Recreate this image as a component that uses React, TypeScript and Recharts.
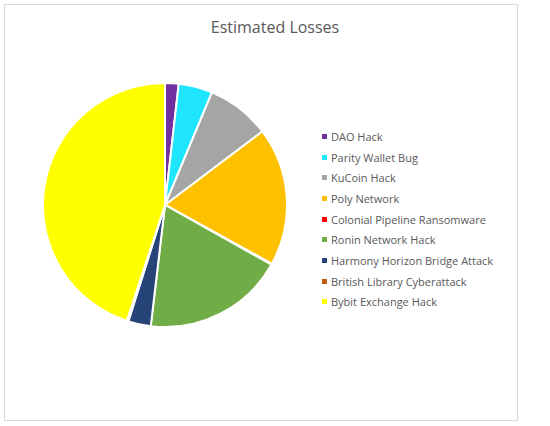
import React from 'react';
import { PieChart, Pie, Cell, Legend } from 'recharts';

// estimated losses, millions USD
const incidents = [
  'DAO Hack',
  'Parity Wallet Bug',
  'KuCoin Hack',
  'Poly Network',
  'Colonial Pipeline Ransomware',
  'Ronin Network Hack',
  'Harmony Horizon Bridge Attack',
  'British Library Cyberattack',
  'Bybit Exchange Hack',
];
const losses = [60, 150, 281, 611, 4.4, 625, 100, 7, 1500];
const colors = [
  '#7030A0',
  '#1FE5FF',
  '#A5A5A5',
  '#FFC000',
  '#FF0000',
  '#70AD47',
  '#264478',
  '#C55A11',
  '#FFFF00',
];

const data = incidents.map((name, i) => ({ name, value: losses[i] }));

const font = '"Open Sans", sans-serif';

const LegendList = ({ payload }: any) => (
  <div style={{ fontFamily: font, fontSize: 11, color: '#595959' }}>
    {payload.map((entry: any) => (
      <div key={entry.value} style={{ height: 20.7, display: 'flex', alignItems: 'center' }}>
        <span
          style={{
            display: 'inline-block',
            width: 5,
            height: 5,
            background: entry.color,
            marginRight: 4,
          }}
        />
        <span>{entry.value}</span>
      </div>
    ))}
  </div>
);

export default function App() {
  return (
    <div style={{ position: 'absolute', left: 0, top: 0, width: 550, height: 426, background: '#fff' }}>
      <div
        style={{
          position: 'absolute',
          left: 4,
          top: 4,
          width: 512,
          height: 415,
          border: '1px solid #D9D9D9',
        }}
      />
      <div
        style={{
          position: 'absolute',
          left: 0,
          top: 16,
          width: 550,
          textAlign: 'center',
          fontFamily: font,
          fontSize: 16,
          color: '#595959',
        }}
      >
        Estimated Losses
      </div>
      <div style={{ position: 'absolute', left: 0, top: 0 }}>
        <PieChart width={550} height={426} margin={{ top: 0, right: 0, bottom: 0, left: 0 }}>
          <Pie
            data={data}
            dataKey="value"
            nameKey="name"
            cx={165}
            cy={205}
            outerRadius={122}
            startAngle={90}
            endAngle={-270}
            stroke="#fff"
            strokeWidth={2}
            isAnimationActive={false}
          >
            {data.map((d, i) => (
              <Cell key={d.name} fill={colors[i]} />
            ))}
          </Pie>
          <Legend
            layout="vertical"
            itemSorter={null}
            content={<LegendList />}
            wrapperStyle={{ left: 322, top: 126, width: 200 }}
          />
        </PieChart>
      </div>
    </div>
  );
}
